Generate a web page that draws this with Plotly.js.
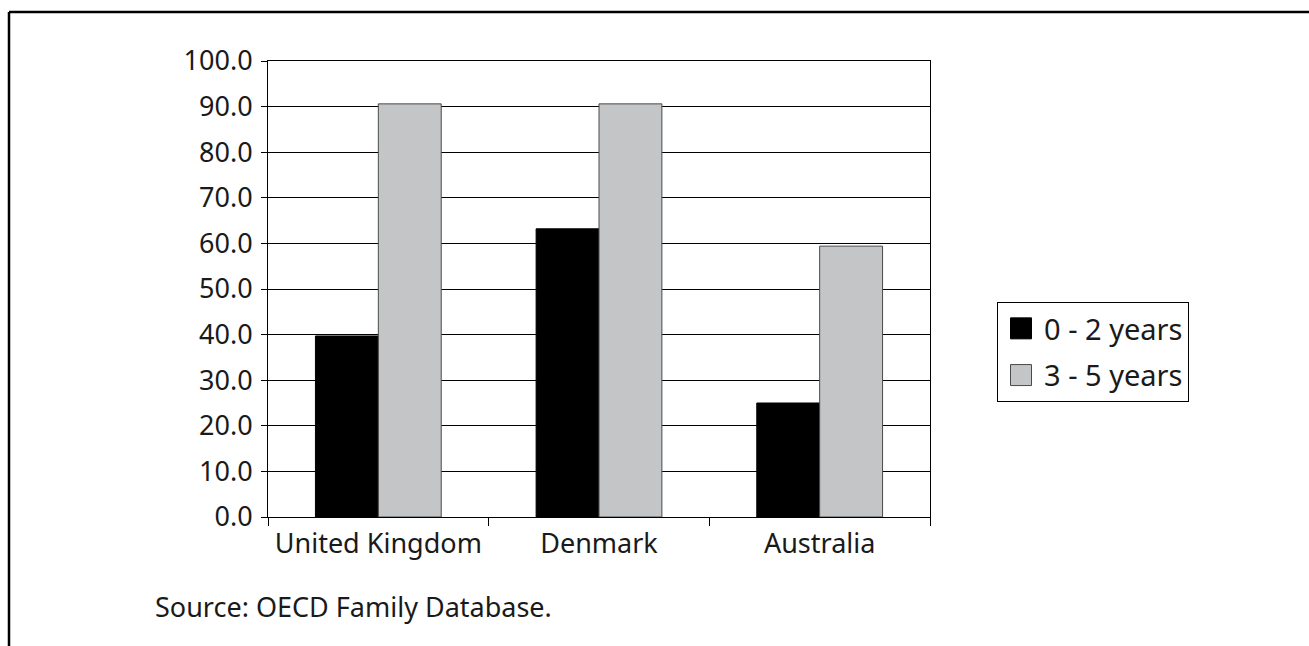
<!DOCTYPE html>
<html>
<head>
<meta charset="utf-8">
<script src="https://cdn.plot.ly/plotly-3.0.1.min.js"></script>
<style>html,body{margin:0;padding:0;background:#fff;}#chart{width:1309px;height:646px;}</style>
</head>
<body>
<div id="chart"></div>
<script>
const countries = ["United Kingdom", "Denmark", "Australia"];
const seriesNames = ["0 - 2 years", "3 - 5 years"];
const age0to2 = [39.7, 63.2, 25.0];
const age3to5 = [90.6, 90.6, 59.4];
const yTicks = [0, 10, 20, 30, 40, 50, 60, 70, 80, 90, 100];
const yTickLabels = ["0.0", "10.0", "20.0", "30.0", "40.0", "50.0", "60.0", "70.0", "80.0", "90.0", "100.0"];
const sourceNote = "Source: OECD Family Database.";

const FONT = "Noto Sans, DejaVu Sans, sans-serif";
const FS = 27;
const TXT = "#1a1a1a";
const W = 1309, H = 646;
const L = 268, R = 930, T = 61, B = 517;
const px = x => (x - L) / (R - L);
const py = y => (B - y) / (B - T);

const traces = [
  {type: "bar", name: seriesNames[0], legendgroup: "a", x: countries, y: age0to2,
   marker: {color: "#000000", line: {color: "#000000", width: 1}}},
  {type: "bar", name: seriesNames[1], legendgroup: "b", x: countries, y: age3to5,
   marker: {color: "#c4c5c7", line: {color: "#4a4a4a", width: 1}}}
];

const layout = {
  width: W, height: H,
  margin: {l: L, r: W - R, t: T, b: H - B, pad: 0},
  paper_bgcolor: "#ffffff", plot_bgcolor: "#ffffff",
  font: {family: FONT, size: FS, color: TXT},
  barmode: "group", bargap: 0.43, bargroupgap: 0,
  showlegend: true,
  legend: {x: px(997), y: py(302), xanchor: "left", yanchor: "top",
           bordercolor: "#000000", borderwidth: 1, bgcolor: "#ffffff",
           font: {family: FONT, size: 29, color: TXT},
           tracegroupgap: 6, itemwidth: 36},
  xaxis: {type: "category", showline: true, linecolor: "#000000", linewidth: 1,
          mirror: true, ticks: "outside", ticklen: 8, tickcolor: "#000000",
          tickson: "boundaries", showgrid: false, zeroline: false,
          ticklabelstandoff: 3,
          tickfont: {family: FONT, size: FS, color: TXT}},
  yaxis: {range: [0, 100], tickmode: "array", tickvals: yTicks, ticktext: yTickLabels,
          showline: true, linecolor: "#000000", linewidth: 1, mirror: true,
          ticks: "outside", ticklen: 6, tickcolor: "#000000",
          showgrid: true, gridcolor: "#000000", gridwidth: 1, zeroline: false,
          ticklabelstandoff: 3,
          tickfont: {family: FONT, size: FS, color: TXT}},
  annotations: [
    {xref: "paper", yref: "paper", x: px(153), y: py(606), xanchor: "left", yanchor: "middle",
     text: sourceNote, showarrow: false, font: {family: FONT, size: FS, color: TXT}}
  ],
  shapes: [
    {type: "line", xref: "paper", yref: "paper", x0: px(9), x1: px(1309), y0: py(12), y1: py(12),
     line: {color: "#000000", width: 2.5}},
    {type: "line", xref: "paper", yref: "paper", x0: px(9), x1: px(9), y0: py(12), y1: py(646),
     line: {color: "#000000", width: 2.5}}
  ]
};

Plotly.newPlot("chart", traces, layout, {displayModeBar: false, staticPlot: true}).then(gd => {
  gd.querySelectorAll(".legend .legendpoints path").forEach(p => {
    p.setAttribute("d", "M10.5,10.5H-10.5V-10.5H10.5Z");
  });
});
</script>
</body>
</html>
